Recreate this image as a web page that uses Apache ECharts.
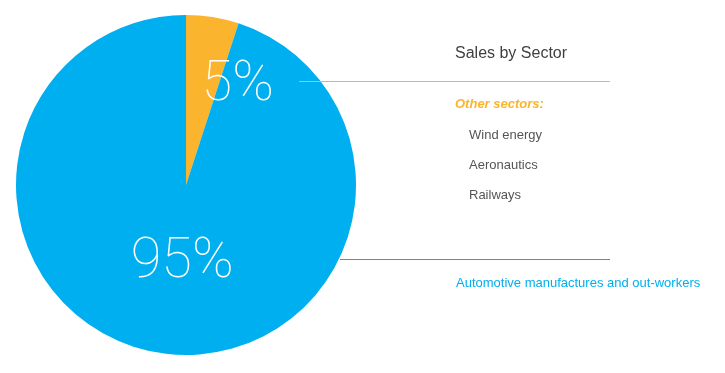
<!DOCTYPE html>
<html>
<head>
<meta charset="utf-8">
<script src="https://cdn.jsdelivr.net/npm/echarts@6/dist/echarts.min.js"></script>
<style>html,body{margin:0;padding:0;background:#fff;}#c{width:725px;height:373px;}</style>
</head>
<body>
<div id="c"></div>
<script>
var categories = ['Other sectors:', 'Automotive manufactures and out-workers'];
var values = [5, 95];
var otherSectors = ['Wind energy', 'Aeronautics', 'Railways'];
var chartTitle = 'Sales by Sector';

var ORANGE = '#FBB42E';
var BLUE = '#00AFEF';

var chart = echarts.init(document.getElementById('c'), null, {renderer: 'canvas'});

var graphics = [
  {type: 'text', left: 455, top: 46, style: {text: chartTitle, font: '16px "Liberation Sans", Arial, sans-serif', fill: '#404040'}},
  {type: 'line', shape: {x1: 299, y1: 81.5, x2: 610, y2: 81.5}, style: {stroke: ORANGE, lineWidth: 1}, z: 10},
  {type: 'text', left: 455, top: 98, style: {text: categories[0], font: 'italic bold 13px "Liberation Sans", Arial, sans-serif', fill: ORANGE}},
  {type: 'line', shape: {x1: 340, y1: 259.5, x2: 610, y2: 259.5}, style: {stroke: BLUE, lineWidth: 1}, z: 10},
  {type: 'text', left: 456, top: 277, style: {text: categories[1], font: '13px "Liberation Sans", Arial, sans-serif', fill: BLUE}}
];
otherSectors.forEach(function (s, i) {
  graphics.push({type: 'text', left: 469, top: 129 + i * 30, style: {text: s, font: '13px "Liberation Sans", Arial, sans-serif', fill: '#555'}});
});

var labelOffsets = [[38, -12], [10, -9]];

chart.setOption({
  animation: false,
  graphic: graphics,
  series: [{
    type: 'pie',
    center: [186, 185],
    radius: [0, 170],
    startAngle: 90,
    clockwise: true,
    silent: true,
    itemStyle: {borderWidth: 0},
    label: {
      show: true,
      position: 'inside',
      formatter: function (p) { return p.value + '%'; },
      color: '#fff',
      fontFamily: 'Roboto',
      fontWeight: 100,
      fontSize: 56
    },
    labelLine: {show: false},
    labelLayout: function (p) {
      var o = labelOffsets[p.dataIndex];
      return {dx: o[0], dy: o[1]};
    },
    data: values.map(function (v, i) {
      return {name: categories[i], value: v, itemStyle: {color: i === 0 ? ORANGE : BLUE}};
    })
  }]
});
</script>
</body>
</html>
